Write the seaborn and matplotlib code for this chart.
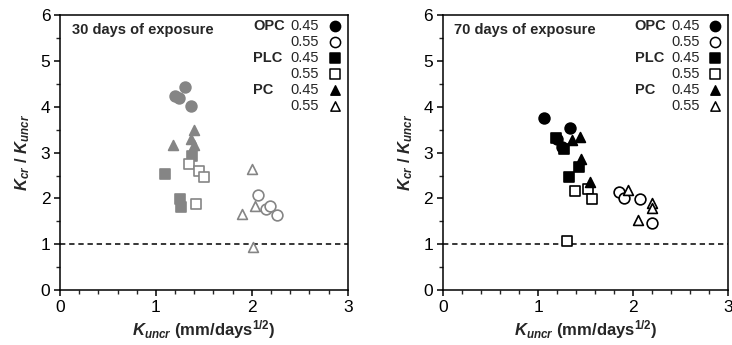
import matplotlib
matplotlib.use("Agg")
import matplotlib.pyplot as plt
import seaborn as sns
import pandas as pd
from matplotlib.ticker import MultipleLocator

# ---- data ----
# 30 days of exposure
d30_opc45_x = [1.30, 1.20, 1.24, 1.37]
d30_opc45_y = [4.44, 4.23, 4.20, 4.01]
d30_opc55_x = [2.06, 2.15, 2.19, 2.26]
d30_opc55_y = [2.07, 1.76, 1.83, 1.64]
d30_plc45_x = [1.38, 1.09, 1.25, 1.26]
d30_plc45_y = [2.93, 2.54, 1.98, 1.82]
d30_plc55_x = [1.35, 1.45, 1.50, 1.42]
d30_plc55_y = [2.75, 2.60, 2.47, 1.89]
d30_pc45_x = [1.40, 1.18, 1.37, 1.40]
d30_pc45_y = [3.49, 3.16, 3.29, 3.16]
d30_pc55_x = [2.00, 1.90, 2.03, 2.01]
d30_pc55_y = [2.65, 1.67, 1.84, 0.95]

# 70 days of exposure
d70_opc45_x = [1.06, 1.34, 1.25, 1.20]
d70_opc45_y = [3.75, 3.54, 3.12, 3.30]
d70_opc55_x = [1.85, 1.90, 2.07, 2.20]
d70_opc55_y = [2.15, 2.00, 1.99, 1.47]
d70_plc45_x = [1.19, 1.27, 1.33, 1.43]
d70_plc45_y = [3.32, 3.07, 2.47, 2.69]
d70_plc55_x = [1.39, 1.52, 1.57, 1.30]
d70_plc55_y = [2.17, 2.20, 1.98, 1.08]
d70_pc45_x = [1.44, 1.36, 1.45, 1.55]
d70_pc45_y = [3.35, 3.27, 2.86, 2.36]
d70_pc55_x = [1.95, 2.20, 2.20, 2.05]
d70_pc55_y = [2.18, 1.90, 1.80, 1.54]

panel_titles = ["30 days of exposure", "70 days of exposure"]
cements = ["OPC", "PLC", "PC"]
wc_labels = ["0.45", "0.55"]
x_ticks = [0, 1, 2, 3]
y_ticks = [0, 1, 2, 3, 4, 5, 6]
threshold = 1.0

rows = []
for panel, groups in [
    (panel_titles[0], [("OPC", "0.45", d30_opc45_x, d30_opc45_y), ("OPC", "0.55", d30_opc55_x, d30_opc55_y),
                       ("PLC", "0.45", d30_plc45_x, d30_plc45_y), ("PLC", "0.55", d30_plc55_x, d30_plc55_y),
                       ("PC", "0.45", d30_pc45_x, d30_pc45_y), ("PC", "0.55", d30_pc55_x, d30_pc55_y)]),
    (panel_titles[1], [("OPC", "0.45", d70_opc45_x, d70_opc45_y), ("OPC", "0.55", d70_opc55_x, d70_opc55_y),
                       ("PLC", "0.45", d70_plc45_x, d70_plc45_y), ("PLC", "0.55", d70_plc55_x, d70_plc55_y),
                       ("PC", "0.45", d70_pc45_x, d70_pc45_y), ("PC", "0.55", d70_pc55_x, d70_pc55_y)]),
]:
    for cem, wc, xs, ys in groups:
        for xv, yv in zip(xs, ys):
            rows.append(dict(panel=panel, cement=cem, wc=wc, x=xv, y=yv))
df = pd.DataFrame(rows)

# ---- style ----
sns.set_style("ticks")
plt.rcParams["font.family"] = ["Liberation Sans", "DejaVu Sans"]
plt.rcParams["mathtext.fontset"] = "custom"
plt.rcParams["mathtext.it"] = "Liberation Sans:bold:italic"
plt.rcParams["mathtext.rm"] = "Liberation Sans:bold"
plt.rcParams["mathtext.bf"] = "Liberation Sans:bold"

markers = {"OPC": "o", "PLC": "s", "PC": "^"}
sizes = {"OPC": 60, "PLC": 60, "PC": 50}
panel_colors = ["#858585", "#000000"]

fig = plt.figure(figsize=(7.32, 3.45), dpi=100)
axes = [fig.add_axes([0.082, 0.159, 0.393, 0.797]),
        fig.add_axes([0.605, 0.159, 0.390, 0.797])]

for ax, title, col in zip(axes, panel_titles, panel_colors):
    sub = df[df.panel == title]
    for cem in cements:
        for wc in wc_labels:
            g = sub[(sub.cement == cem) & (sub.wc == wc)]
            filled = wc == "0.45"
            sns.scatterplot(data=g, x="x", y="y", ax=ax, marker=markers[cem],
                            s=sizes[cem], color=col if filled else "white",
                            edgecolor=col, linewidth=1.2, zorder=3, legend=False)
    ax.axhline(threshold, color="black", lw=1.1, ls=(0, (3.5, 2.5)), zorder=2)
    ax.set_xlim(0, 3)
    ax.set_ylim(0, 6)
    ax.set_xticks(x_ticks)
    ax.set_yticks(y_ticks)
    ax.xaxis.set_minor_locator(MultipleLocator(0.2))
    ax.yaxis.set_minor_locator(MultipleLocator(0.5))
    ax.tick_params(which="major", direction="out", length=4, width=1.1, labelsize=12.5,
                   colors="black", pad=3)
    ax.tick_params(which="minor", direction="out", length=3, width=1.0)
    for sp in ax.spines.values():
        sp.set_visible(True)
        sp.set_linewidth(1.1)
        sp.set_color("black")
    ax.set_xlabel(r"$K_{uncr}$ (mm/days$^{1/2}$)", fontsize=12, fontweight="bold", labelpad=2)
    ax.set_ylabel(r"$K_{cr}$ / $K_{uncr}$", fontsize=12, fontweight="bold", labelpad=6)
    ax.text(0.04, 0.945, title, transform=ax.transAxes, fontsize=10.5,
            fontweight="bold", va="center", ha="left")

    # custom legend
    row_y = [0.960, 0.902, 0.844, 0.786, 0.728, 0.670]
    i = 0
    for cem in cements:
        for wc in wc_labels:
            if wc == "0.45":
                ax.text(0.672, row_y[i], cem, transform=ax.transAxes, fontsize=10.5,
                        fontweight="bold", va="center", ha="left")
            ax.text(0.800, row_y[i], wc, transform=ax.transAxes, fontsize=10.5,
                    va="center", ha="left")
            filled = wc == "0.45"
            ax.scatter([0.955], [row_y[i]], transform=ax.transAxes, marker=markers[cem],
                       s=sizes[cem] * 0.9, c="black" if filled else "white",
                       edgecolors="black", linewidths=1.1, clip_on=False, zorder=4)
            i += 1

fig.savefig("out.png", dpi=100)
